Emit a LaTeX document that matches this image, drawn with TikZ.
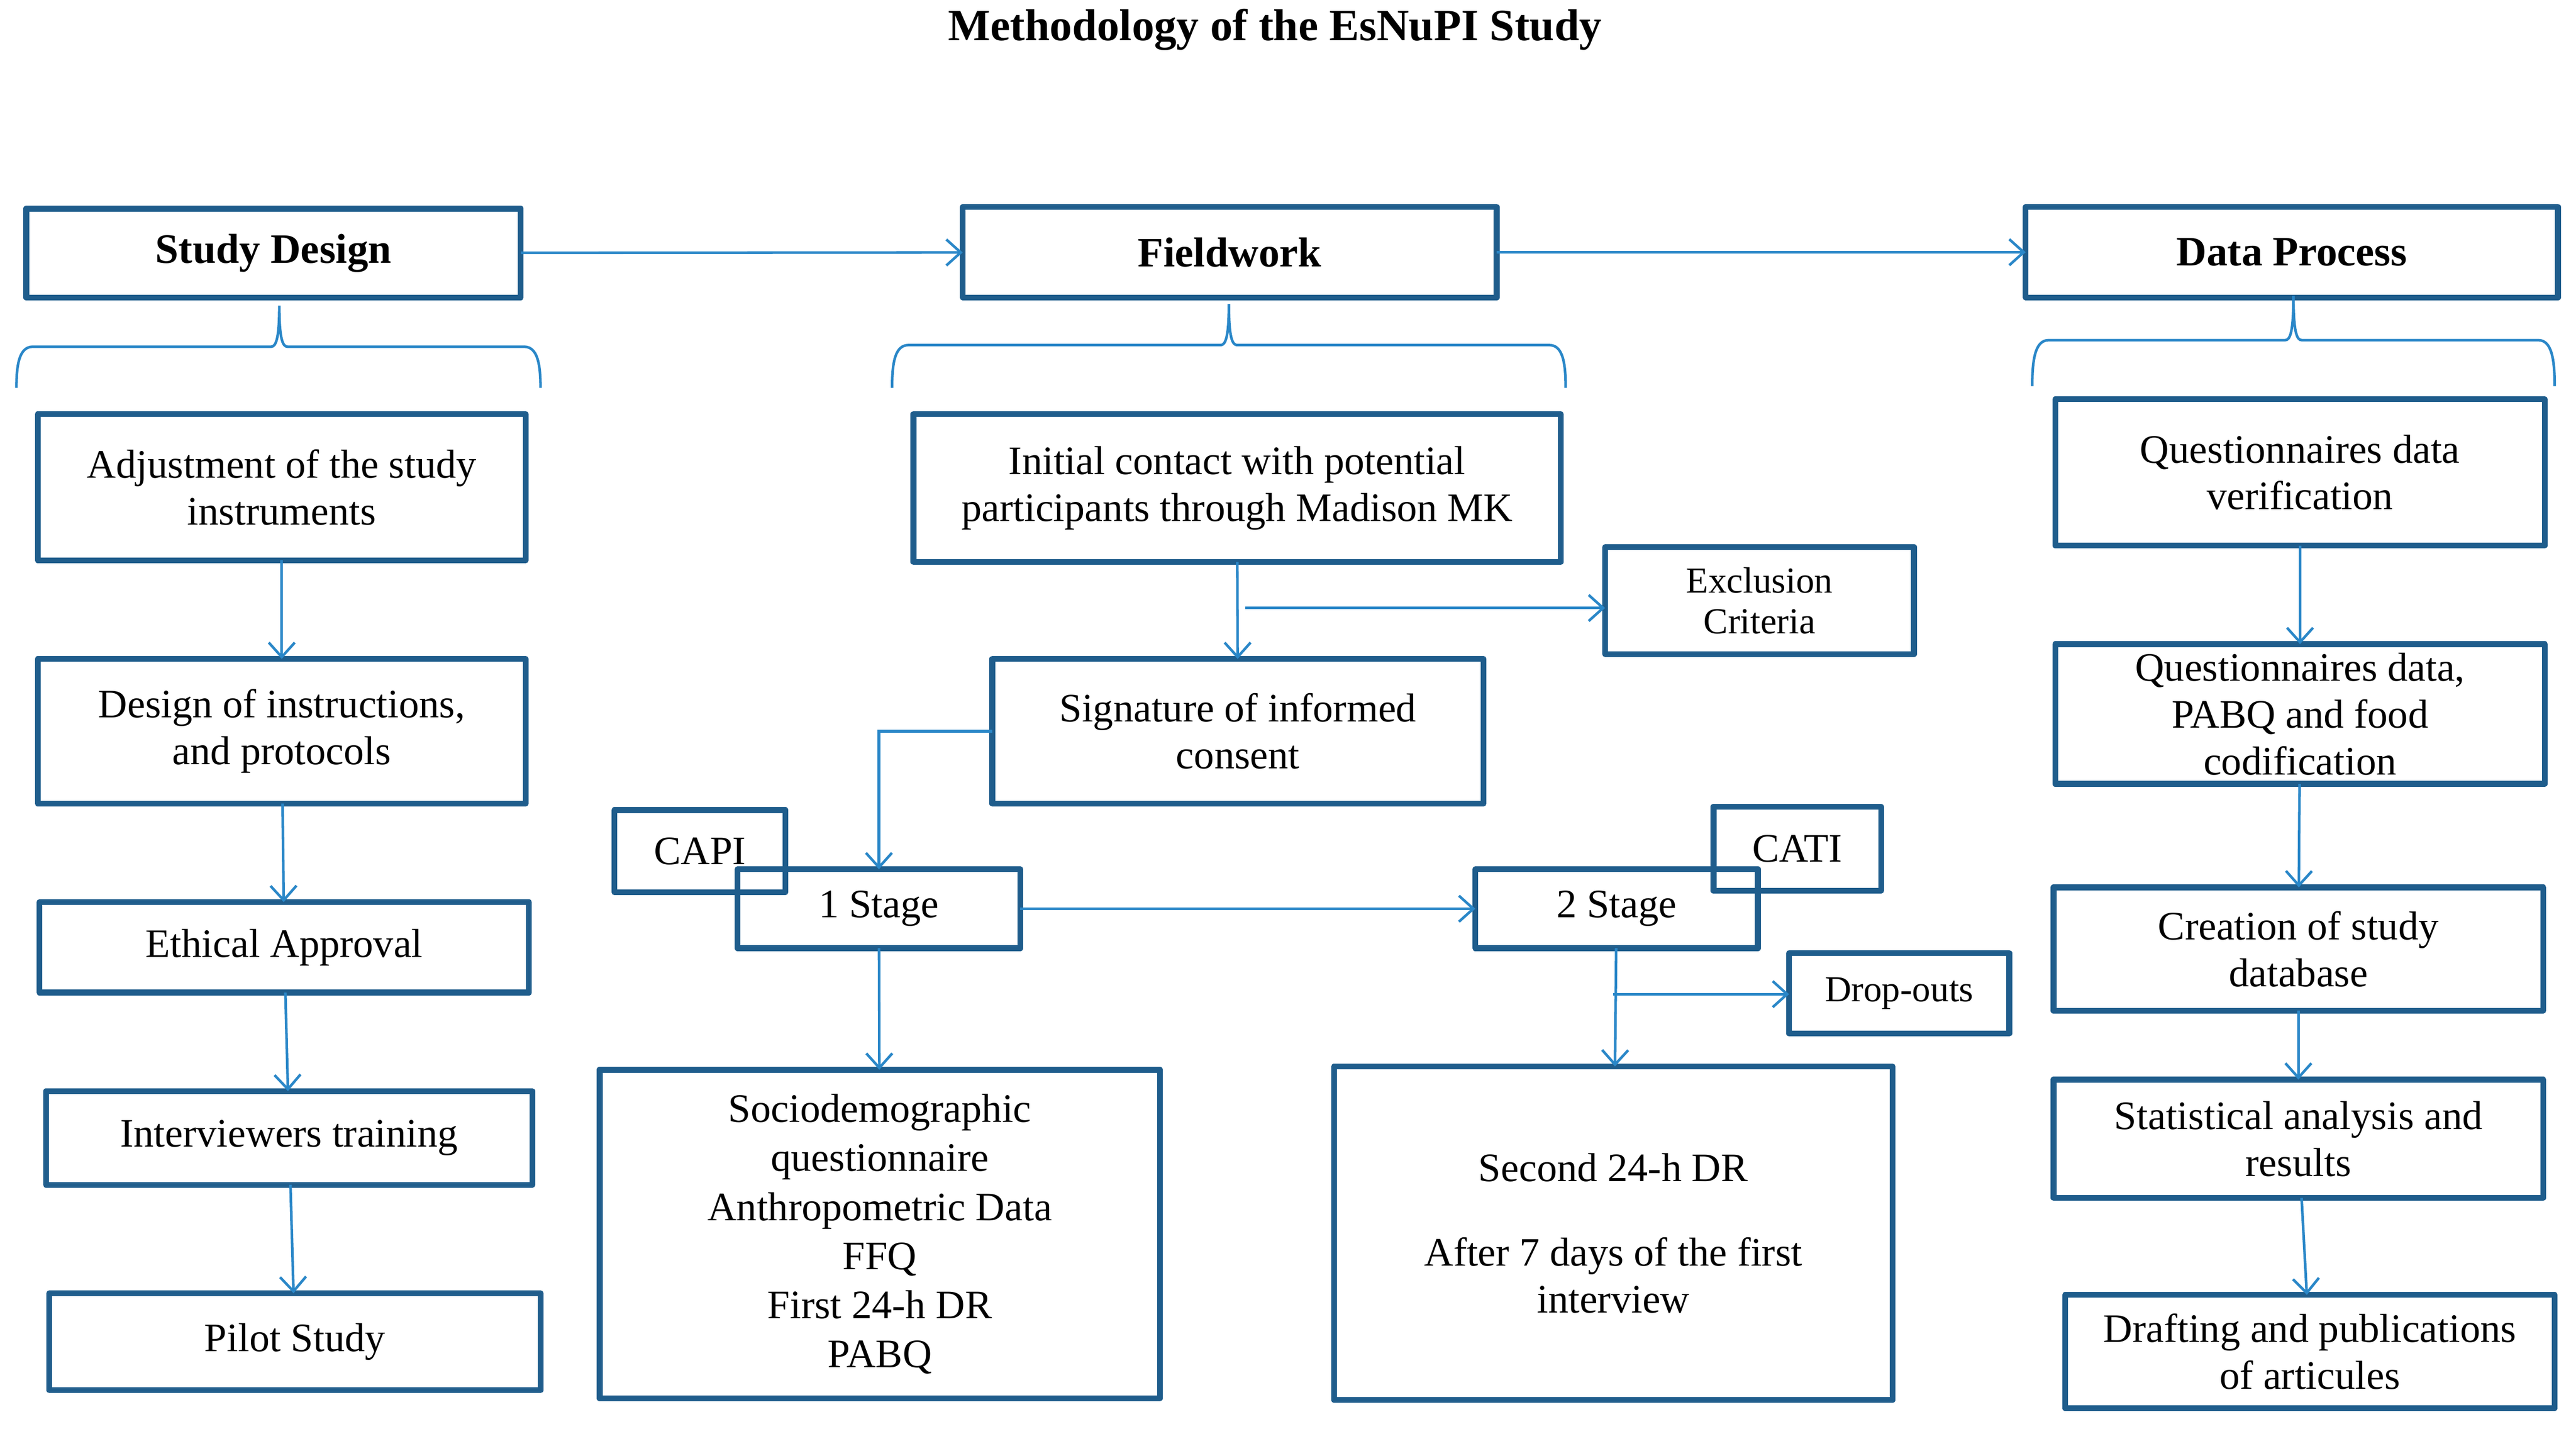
\documentclass[tikz,border=0pt]{standalone}
\usepackage{fontspec}
\setmainfont{Liberation Serif}
\usetikzlibrary{arrows.meta}
\definecolor{boxblue}{RGB}{31,93,140}
\definecolor{linkblue}{RGB}{42,135,200}
\newcommand\myBody{\fontsize{14}{16.2}\selectfont}
\newcommand\myHdr{\fontsize{14.5}{16}\selectfont\bfseries}
\newcommand\mySmall{\fontsize{12.7}{14.2}\selectfont}
% box from corner (x1,y1) to (x2,y2) in picture units
\newcommand\bxnode[7]{%
  \pgfmathsetmacro\myCX{(#3+#5)/2}%
  \pgfmathsetmacro\myCY{(#4+#6)/2}%
  \pgfmathsetmacro\myBW{(#5-#3)*0.02}%
  \pgfmathsetmacro\myBH{(#6-#4)*0.02}%
  \node (#1) [#2,minimum width=\myBW cm,minimum height=\myBH cm] at (\myCX,\myCY) {#7};}
\begin{document}
\begin{tikzpicture}[x=0.02cm,y=-0.02cm,
  box/.style={draw=boxblue,line width=2pt,inner sep=0pt,outer sep=0pt,align=center,font=\myBody,line join=round},
  hdr/.style={box,font=\myHdr},
  smallbox/.style={box,font=\mySmall},
  link/.style={draw=linkblue,line width=0.9pt},
  arr/.style={link,-{Straight Barb[length=5pt,width=9pt]}}]
\useasboundingbox (0,0) rectangle (1568,869.5);

\node (title) at (776,18) {\fontsize{15.5}{17}\selectfont\bfseries Methodology of the EsNuPI Study};

% headers
\bxnode{sd}{hdr}{16}{127}{317}{181}{Study Design}
\bxnode{fw}{hdr}{586}{126}{911}{181}{Fieldwork}
\bxnode{dp}{hdr}{1233}{126}{1557}{181}{Data Process}

% left column
\bxnode{adj}{box}{23}{252}{320}{341}{Adjustment of the study\\instruments}
\bxnode{des}{box}{23}{401}{320}{489}{Design of instructions,\\and protocols}
\bxnode{eth}{box}{24}{549}{322}{604}{Ethical Approval}
\bxnode{int}{box}{28}{664}{324}{721}{Interviewers training}
\bxnode{pil}{box}{30}{787}{329}{846}{Pilot Study}

% middle column
\bxnode{ic}{box}{556}{252}{950}{342}{Initial contact with potential\\participants through Madison MK}
\bxnode{exc}{smallbox}{977}{333}{1165}{398}{Exclusion\\Criteria}
\bxnode{sig}{box}{604}{401}{903}{489}{Signature of informed\\consent}
\bxnode{capi}{box}{374}{493}{478}{543}{CAPI}
\bxnode{s1}{box}{449}{529}{621}{577}{1 Stage}
\bxnode{s2}{box}{898}{529}{1070}{577}{2 Stage}
\bxnode{cati}{box}{1043}{491}{1145}{542}{CATI}
\bxnode{drop}{smallbox}{1089}{580}{1223}{629}{Drop-outs}
\bxnode{socio}{box,font=\fontsize{14}{17}\selectfont}{365}{651}{706}{851}{Sociodemographic\\questionnaire\\Anthropometric Data\\FFQ\\First 24-h DR\\PABQ}
\bxnode{second}{box}{812}{649}{1152}{852}{Second 24-h DR\\[13pt]After 7 days of the first\\interview}

% right column
\bxnode{qv}{box}{1251}{243}{1549}{332}{Questionnaires data\\verification}
\bxnode{qp}{box}{1251}{392}{1549}{477}{Questionnaires data,\\PABQ and food\\codification}
\bxnode{cre}{box}{1250}{540}{1548}{615}{Creation of study\\database}
\bxnode{stat}{box}{1250}{657}{1548}{729}{Statistical analysis and\\results}
\bxnode{draft}{box}{1257}{788}{1555}{857}{Drafting and publications\\of articules}

% braces
\draw[link] (10,236) .. controls (10,221) and (12,211) .. (20,211) -- (165,211)
  .. controls (168,211) and (170,206) .. (170,186)
  .. controls (170,206) and (172,211) .. (175,211) -- (319,211)
  .. controls (327,211) and (329,221) .. (329,236);
\draw[link] (543,236) .. controls (543,220) and (545,210) .. (553,210) -- (743,210)
  .. controls (746,210) and (748,205) .. (748,185)
  .. controls (748,205) and (750,210) .. (753,210) -- (943,210)
  .. controls (951,210) and (953,220) .. (953,236);
\draw[link] (1237,235) .. controls (1237,218) and (1239,207) .. (1247,207) -- (1391,207)
  .. controls (1394,207) and (1396,202) .. (1396,180)
  .. controls (1396,202) and (1398,207) .. (1401,207) -- (1545,207)
  .. controls (1553,207) and (1555,218) .. (1555,235);

% connectors
\draw[arr] (sd) -- (fw);
\draw[arr] (fw) -- (dp);

\draw[arr] (adj) -- (des);
\draw[arr] (des) -- (eth);
\draw[arr] (eth) -- (int);
\draw[arr] (int) -- (pil);

\draw[arr] (ic) -- (sig);
\coordinate (b1) at (758,370);
\draw[arr] (b1) -- (b1 -| exc.west);
\draw[arr] (sig.west) -| (s1.north);
\draw[arr] (s1) -- (s2);
\draw[arr] (s1) -- (socio);
\draw[arr] (s2) -- (second);
\coordinate (b2) at (982,605);
\draw[arr] (b2) -- (b2 -| drop.west);

\draw[arr] (qv) -- (qp);
\draw[arr] (qp) -- (cre);
\draw[arr] (cre) -- (stat);
\draw[arr] (stat) -- (draft);
\end{tikzpicture}
\end{document}
